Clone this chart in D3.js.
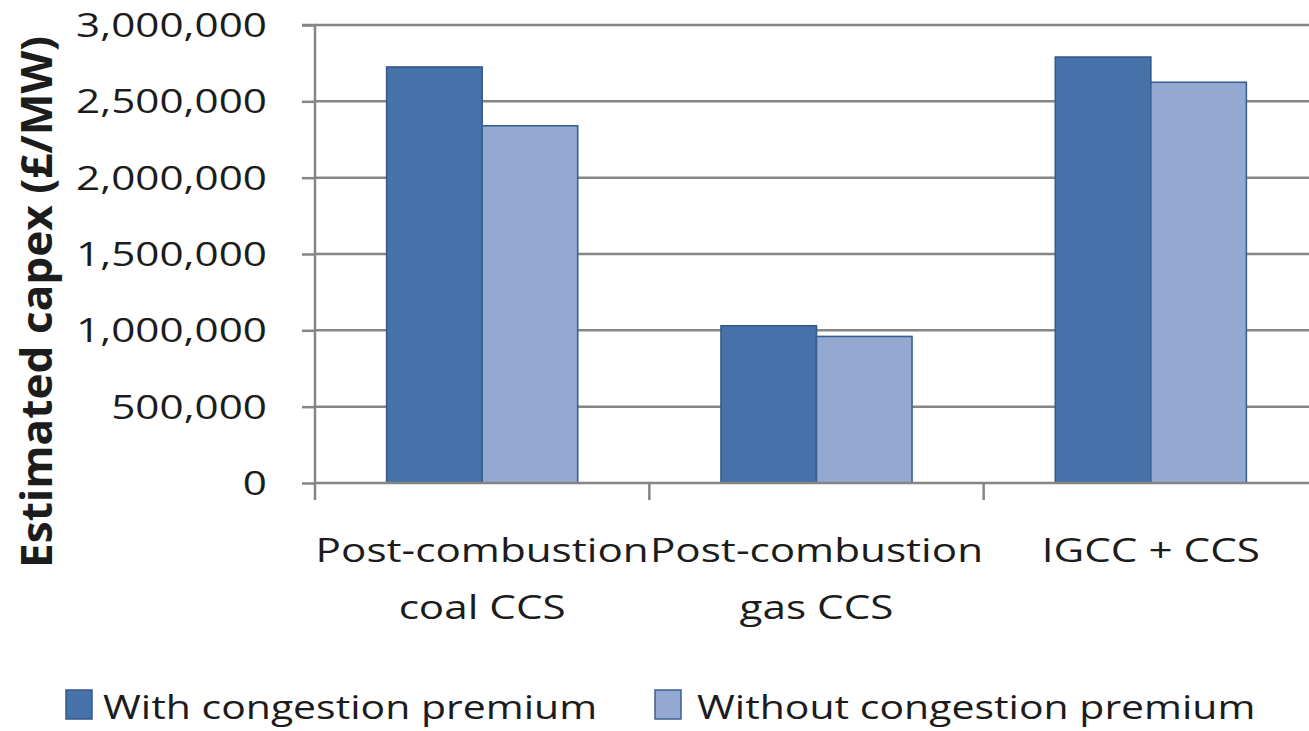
<!DOCTYPE html>
<html>
<head>
<meta charset="utf-8">
<script src="https://cdn.jsdelivr.net/npm/d3@7"></script>
<style>
  body { margin: 0; background: #ffffff; }
  svg text { font-family: "Open Sans", "Noto Sans", sans-serif; fill: #1c1c1c; }
</style>
</head>
<body>
<svg id="chart" width="1309" height="731"></svg>
<script>
// Estimated capex per MW for three CCS technologies
const categories = ["Post-combustion coal CCS", "Post-combustion gas CCS", "IGCC + CCS"];
const categoryLines = [["Post-combustion", "coal CCS"], ["Post-combustion", "gas CCS"], ["IGCC + CCS"]];
const seriesNames = ["With congestion premium", "Without congestion premium"];
const withPremium = [2725000, 1030000, 2790000];
const withoutPremium = [2340000, 960000, 2625000];
const yTicks = [0, 500000, 1000000, 1500000, 2000000, 2500000, 3000000];
const yTitle = "Estimated capex (£/MW)";

const seriesValues = [withPremium, withoutPremium];
const fills = ["#4671a9", "#93a9d2"];
const strokes = ["#36598a", "#3c5f93"];

const svg = d3.select("#chart");
const W = 1309, H = 731;
const plot = { left: 315, right: 1318, top: 25, bottom: 483 };
const SX = 1.28; // horizontal stretch applied to the lettering

const x = d3.scaleBand().domain(categories).range([plot.left, plot.right]).padding(0);
const xs = d3.scaleBand().domain(seriesNames).range([0, x.bandwidth()]).paddingInner(0).paddingOuter(0.75);
const y = d3.scaleLinear().domain([0, 3000000]).range([plot.bottom, plot.top]);

const gridColor = "#858585";

// horizontal gridlines
svg.append("g").selectAll("line").data(yTicks.filter(d => d > 0)).join("line")
  .attr("x1", plot.left).attr("x2", W + 20)
  .attr("y1", d => y(d)).attr("y2", d => y(d))
  .attr("stroke", gridColor).attr("stroke-width", 2.5);

// bars
const rows = categories.map((c, i) => ({ c, vals: seriesNames.map((s, j) => ({ s, j, v: seriesValues[j][i] })) }));
const groups = svg.append("g").selectAll("g").data(rows).join("g")
  .attr("transform", d => `translate(${x(d.c)},0)`);
groups.selectAll("rect").data(d => d.vals).join("rect")
  .attr("x", d => xs(d.s)).attr("width", xs.bandwidth())
  .attr("y", d => y(d.v)).attr("height", d => y(0) - y(d.v))
  .attr("fill", d => fills[d.j]).attr("stroke", d => strokes[d.j]).attr("stroke-width", 1.6);

// y axis
const yAxis = d3.axisLeft(y).tickValues(yTicks).tickSize(13).tickFormat("");
const gy = svg.append("g").attr("transform", `translate(${plot.left},0)`).call(yAxis);
gy.select(".domain").attr("stroke", gridColor).attr("stroke-width", 2.5).attr("d", `M-13,${plot.top}H0V${plot.bottom}`);
gy.selectAll(".tick line").attr("stroke", gridColor).attr("stroke-width", 2.5);

// x axis with ticks between categories
const gx = svg.append("g");
gx.append("line").attr("x1", plot.left).attr("x2", W + 20)
  .attr("y1", plot.bottom).attr("y2", plot.bottom)
  .attr("stroke", gridColor).attr("stroke-width", 2.5);
gx.selectAll("line.tk").data(categories).join("line").attr("class", "tk")
  .attr("x1", d => x(d)).attr("x2", d => x(d))
  .attr("y1", plot.bottom).attr("y2", plot.bottom + 17)
  .attr("stroke", gridColor).attr("stroke-width", 2.5);

// text helper: sx/sy stretch in the text's own frame
function label(g, txt, tx, ty, opts = {}) {
  const sx = opts.sx || SX, sy = opts.sy || 1;
  return g.append("text")
    .attr("transform", `translate(${tx},${ty})${opts.rotate ? ` rotate(${opts.rotate})` : ""} scale(${sx},${sy})`)
    .attr("text-anchor", opts.anchor || "start")
    .attr("font-size", opts.size || 34)
    .attr("font-weight", opts.weight || 400)
    .attr("dy", opts.dy || 0)
    .text(txt);
}

const fmt = d3.format(",");
const gl = svg.append("g");
yTicks.forEach(t => label(gl, fmt(t), 267, y(t), { anchor: "end", size: 33, dy: "0.36em" }));

categoryLines.forEach((lines, i) => {
  const cx = x(categories[i]) + x.bandwidth() / 2;
  lines.forEach((ln, k) => label(gl, ln, cx, 562 + k * 57, { anchor: "middle", size: 33 }));
});

// axis title (rotated; stretched along its length)
label(gl, yTitle, 52, 302, { anchor: "middle", size: 32, weight: 700, rotate: -90, sx: 1.38, sy: 1.36 });

// legend
const legend = [{ name: seriesNames[0], sx: 66, tx: 103 }, { name: seriesNames[1], sx: 655, tx: 697 }];
legend.forEach((l, j) => {
  gl.append("rect").attr("x", l.sx).attr("y", 690).attr("width", 26).attr("height", 29)
    .attr("fill", fills[j]).attr("stroke", strokes[j]).attr("stroke-width", 1.5);
  label(gl, l.name, l.tx, 719, { size: 32 });
});
</script>
</body>
</html>
